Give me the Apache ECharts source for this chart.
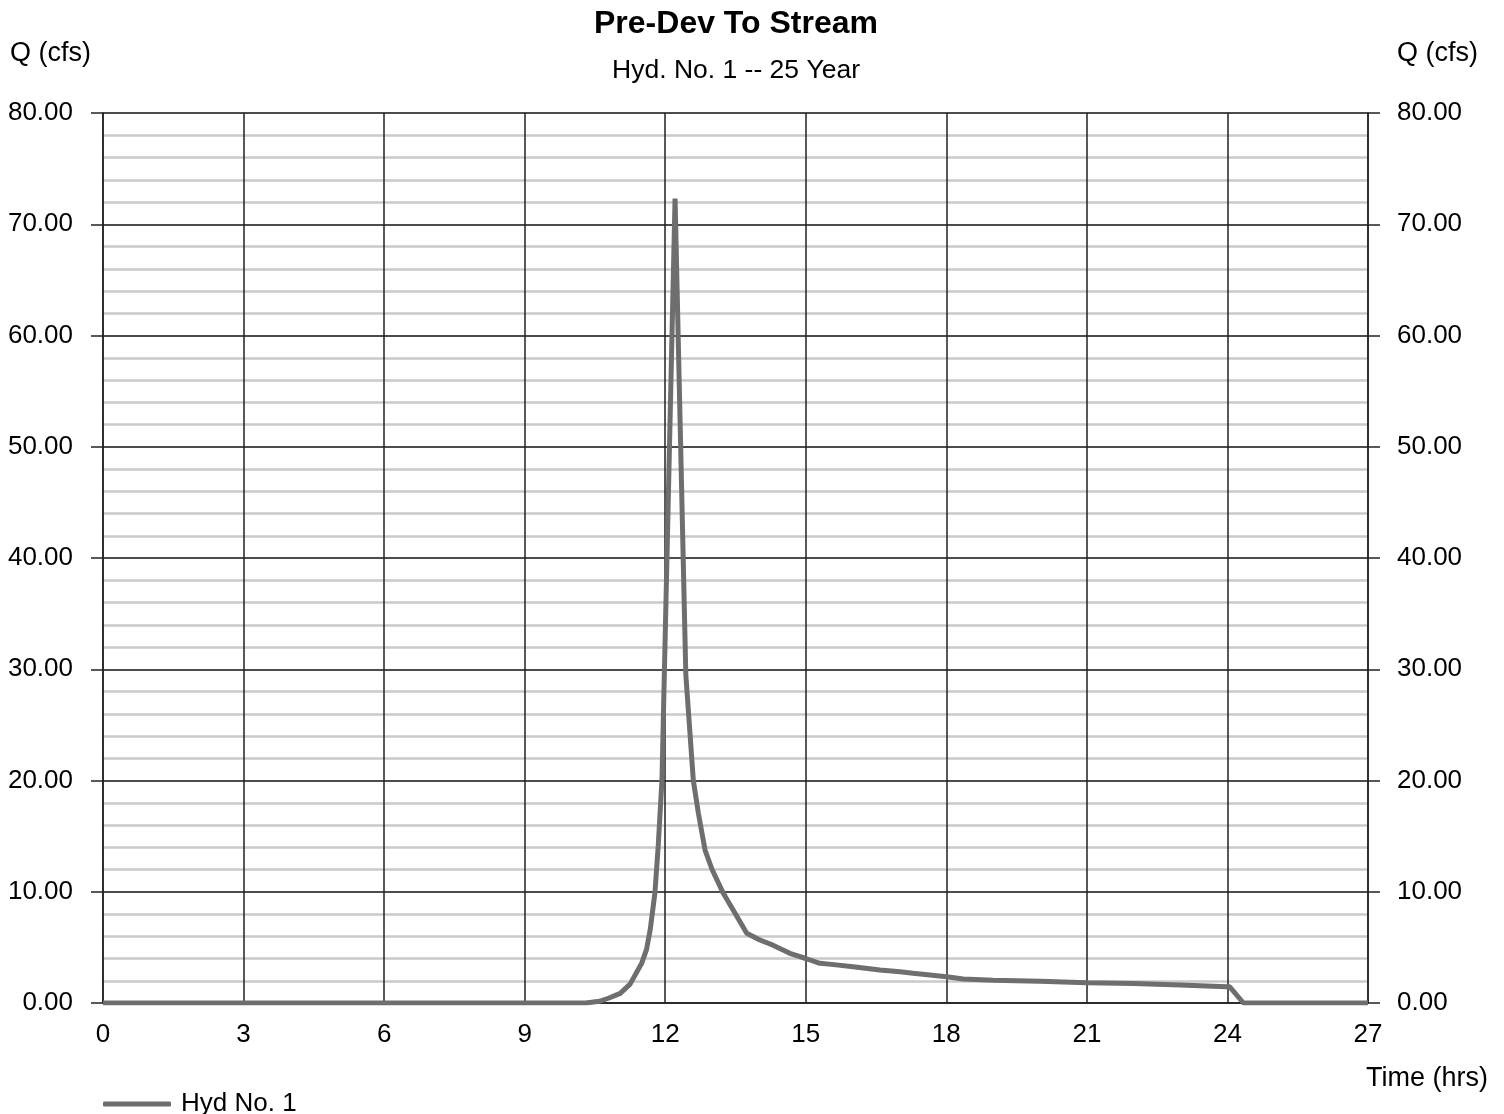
<!DOCTYPE html>
<html>
<head>
<meta charset="utf-8">
<title>Pre-Dev To Stream</title>
<script src="https://cdn.jsdelivr.net/npm/echarts@6.0.0/dist/echarts.min.js"></script>
<style>
  html, body { margin: 0; padding: 0; background: #fff; }
  #chart { width: 1504px; height: 1114px; }
</style>
</head>
<body>
<div id="chart"></div>
<script>
// hydrograph (hours, cfs)
const timeHrs = [0, 9.8, 10.3, 10.6, 10.8, 11.04, 11.25, 11.5, 11.6, 11.68, 11.78, 11.85, 11.93, 12.21,
  12.44, 12.6, 12.71, 12.85, 13.0, 13.24, 13.5, 13.74, 14.02, 14.3, 14.66, 15.0, 15.3, 15.6, 16.01,
  16.58, 17.01, 17.29, 17.7, 18.01, 18.36, 19.0, 20.0, 21.0, 22.0, 23.0, 23.98, 24.05, 24.34, 27];
const flowCfs = [0, 0, 0, 0.15, 0.45, 0.87, 1.7, 3.6, 4.8, 6.6, 9.9, 14.1, 20.0, 72.3,
  29.5, 20.0, 17.0, 13.75, 12.0, 9.86, 8.0, 6.27, 5.66, 5.2, 4.47, 4.0, 3.57, 3.45, 3.26,
  2.97, 2.81, 2.67, 2.5, 2.36, 2.15, 2.05, 1.95, 1.83, 1.75, 1.62, 1.47, 1.45, 0, 0];
const xTicks = [0, 3, 6, 9, 12, 15, 18, 21, 24, 27];
const yTicks = [0, 10, 20, 30, 40, 50, 60, 70, 80];

const seriesName = "Hyd No. 1";
const font = "'Liberation Sans', Arial, sans-serif";
const lineColor = "#6e6e6e";

const chart = echarts.init(document.getElementById("chart"));

function yAxisFor(position) {
  return {
    type: "value",
    position: position,
    min: yTicks[0],
    max: yTicks[yTicks.length - 1],
    interval: 10,
    axisLine: { show: true, lineStyle: { color: "#222", width: 1.5 } },
    axisTick: { show: true, inside: false, length: 12, lineStyle: { color: "#222", width: 1.5 } },
    axisLabel: {
      margin: position === "left" ? 30 : 29,
      color: "#000",
      fontFamily: font,
      fontSize: 26,
      formatter: (v) => v.toFixed(2),
    },
    splitLine: { show: position === "left", lineStyle: { color: "#111", width: 1.5 } },
    minorTick: { show: false, splitNumber: 5 },
    minorSplitLine: { show: position === "left", lineStyle: { color: "#cacaca", width: 2.5 } },
  };
}

chart.setOption({
  animation: false,
  backgroundColor: "#fff",
  graphic: [
    {
      type: "text", x: 736, y: 8,
      style: { text: "Pre-Dev To Stream", font: `bold 32px ${font}`, fill: "#000", align: "center" },
    },
    {
      type: "text", x: 736, y: 57,
      style: { text: "Hyd. No. 1 -- 25 Year", font: `26.5px ${font}`, fill: "#000", align: "center" },
    },
    { type: "text", left: 10, top: 40, style: { text: "Q (cfs)", font: `27px ${font}`, fill: "#000" } },
    { type: "text", right: 26, top: 40, style: { text: "Q (cfs)", font: `27px ${font}`, fill: "#000" } },
    { type: "text", right: 16, top: 1065, style: { text: "Time (hrs)", font: `27px ${font}`, fill: "#000" } },
  ],
  legend: {
    left: 98,
    top: 1086,
    icon: "roundRect",
    itemWidth: 68,
    itemHeight: 5,
    itemGap: 12,
    textStyle: { fontFamily: font, fontSize: 26, color: "#000", padding: [0, 0, 0, 5] },
    data: [seriesName],
  },
  grid: { left: 103, right: 136, top: 113, bottom: 111, containLabel: false },
  xAxis: {
    type: "value",
    min: xTicks[0],
    max: xTicks[xTicks.length - 1],
    interval: 3,
    axisLine: { show: true, lineStyle: { color: "#222", width: 1.5 } },
    axisTick: { show: false },
    axisLabel: { margin: 19, color: "#000", fontFamily: font, fontSize: 26 },
    splitLine: { show: true, lineStyle: { color: "#222", width: 1.5 } },
  },
  yAxis: [yAxisFor("left"), yAxisFor("right")],
  series: [
    {
      name: seriesName,
      type: "line",
      data: timeHrs.map((t, i) => [t, flowCfs[i]]),
      showSymbol: false,
      smooth: false,
      lineStyle: { color: lineColor, width: 5 },
      itemStyle: { color: lineColor },
      z: 5,
    },
  ],
});
</script>
</body>
</html>
